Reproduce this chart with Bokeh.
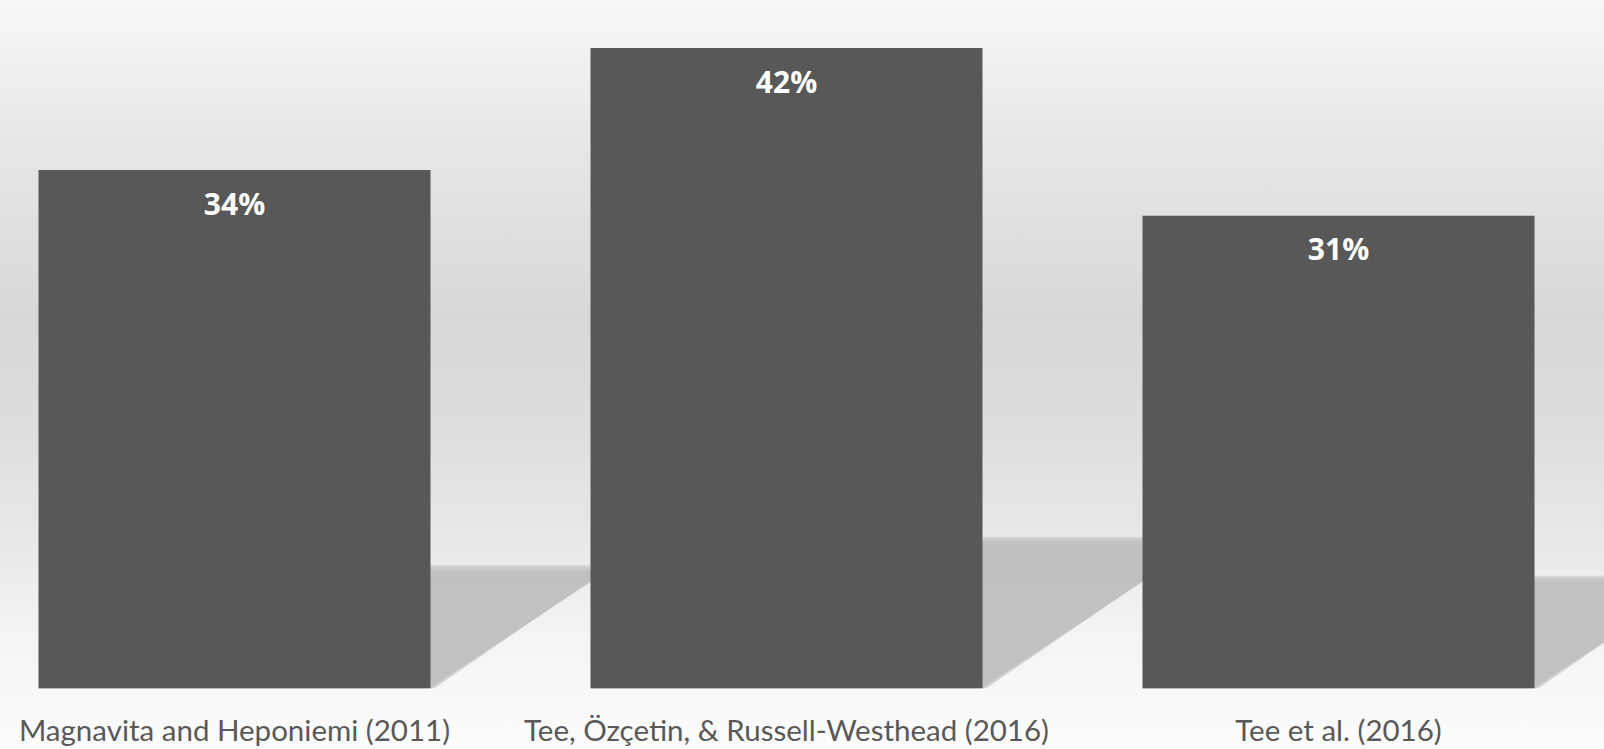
from bokeh.plotting import figure
from bokeh.models import Range1d, FixedTicker, ColumnDataSource, LabelSet
from bokeh.core.properties import value
from bokeh.embed import file_html
from bokeh.resources import INLINE

categories = ["Magnavita and Heponiemi (2011)",
              "Tee, Özçetin, & Russell-Westhead (2016)",
              "Tee et al. (2016)"]
values = [34, 42, 31]
value_labels = ["34%", "42%", "31%"]

W, H = 1604, 749
BOTTOM = 60
PX_X = 552.0           # pixels per category step
PX_Y = 15.27           # pixels per percentage point
BAR_W = 392.0 / PX_X

xs = list(range(len(categories)))

p = figure(width=W, height=H, output_backend="svg", toolbar_location=None,
           x_range=Range1d(-234.0 / PX_X, (W - 234.0) / PX_X),
           y_range=Range1d(0, (H - BOTTOM) / PX_Y),
           y_axis_location=None,
           min_border_left=0, min_border_right=0, min_border_top=0,
           min_border_bottom=BOTTOM)
p.outline_line_color = None
p.background_fill_alpha = 0
p.border_fill_alpha = 0
p.grid.visible = False
p.styles = {"background": "linear-gradient(to bottom, #f7f7f7 0%, #e6e6e6 20%, #d8d8d8 42%, #dcdcdc 55%, #e8e8e8 72%, #f4f4f4 85%, #fcfcfc 100%)"}

# perspective shadows (blurred with layered semi-transparent polygons)
for e in [3.5, 1.2, -1.2, -3.5]:
    sx, sy = [], []
    for i, v in zip(xs, values):
        hs = 0.231 * v
        dx = 0.00953 * v
        left = i - BAR_W / 2
        right = i + BAR_W / 2
        ex = e / PX_X
        ey = e / PX_Y
        sx.append([left, right + ex, right + dx + ex, left + dx])
        sy.append([0, 0, hs + ey, hs + ey])
    p.patches(sx, sy, fill_color="#bebebe", fill_alpha=0.5, line_color=None)

src = ColumnDataSource(dict(x=xs, v=values, lbl=value_labels))
p.vbar(x="x", top="v", width=BAR_W, bottom=0, source=src,
       fill_color="#585858", line_color=None)

labels = LabelSet(x="x", y="v", text="lbl", source=src, y_offset=-33,
                  text_align="center", text_baseline="middle",
                  text_color="white", text_font=value("Open Sans"),
                  text_font_style="bold", text_font_size="30px")
p.add_layout(labels)

ax = p.xaxis[0]
ax.ticker = FixedTicker(ticks=xs)
ax.major_label_overrides = {i: c for i, c in zip(xs, categories)}
ax.axis_line_color = None
ax.major_tick_line_color = None
ax.minor_tick_line_color = None
ax.major_tick_out = 0
ax.major_tick_in = 0
ax.major_label_standoff = 23
ax.major_label_text_font = "Lato"
ax.major_label_text_font_size = "29.5px"
ax.major_label_text_color = "#595959"

open("out.html", "w").write(file_html(p, INLINE))
